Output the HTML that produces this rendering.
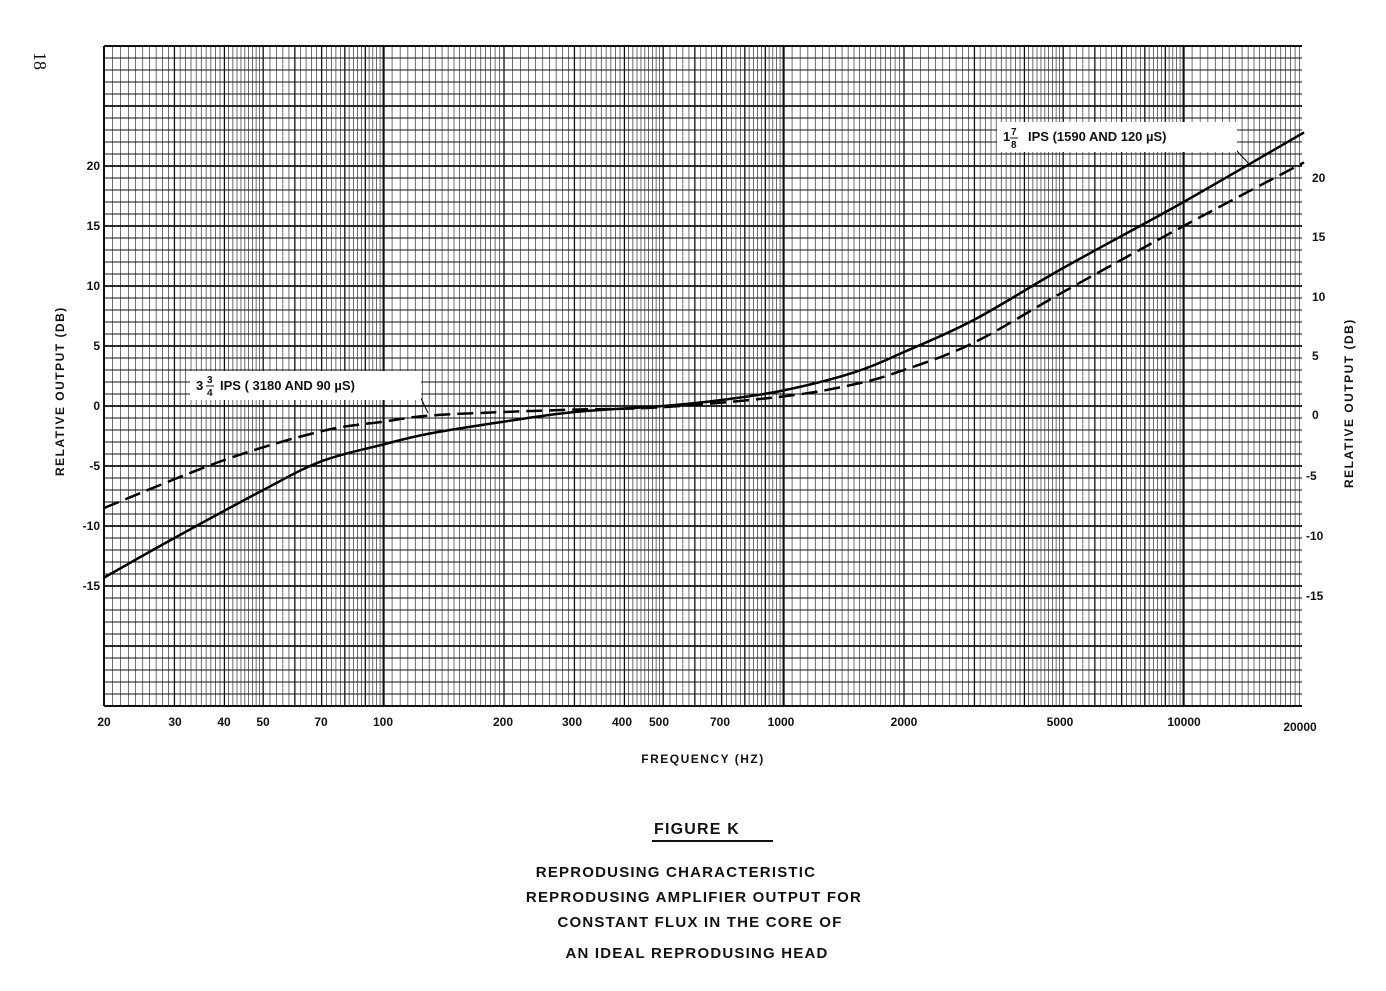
<!DOCTYPE html>
<html><head><meta charset="utf-8"><style>
body{margin:0;background:#fff;}
svg{display:block;font-family:"Liberation Sans",sans-serif;font-weight:bold;}
</style></head><body>
<svg id="s" width="1386" height="991" viewBox="0 0 1386 991" xmlns="http://www.w3.org/2000/svg">
<g id="grid"></g>
<g id="curves"></g>
<g font-size="12" fill="#111">
<text x="34" y="52" font-family="Liberation Serif" font-weight="normal" font-size="18" transform="rotate(90 34 52)">18</text>
<g text-anchor="end">
<text x="100" y="170">20</text><text x="100" y="230">15</text><text x="100" y="290">10</text><text x="100" y="350">5</text><text x="100" y="410">0</text><text x="100" y="470">-5</text><text x="100" y="530">-10</text><text x="100" y="590">-15</text>
</g>
<g text-anchor="start">
<text x="1312" y="182">20</text><text x="1312" y="241">15</text><text x="1312" y="301">10</text><text x="1312" y="360">5</text><text x="1312" y="419">0</text><text x="1306" y="480">-5</text><text x="1306" y="540">-10</text><text x="1306" y="600">-15</text>
</g>
<g text-anchor="middle" font-size="12">
<text x="104" y="726">20</text><text x="175" y="726">30</text><text x="224" y="726">40</text><text x="263" y="726">50</text><text x="321" y="726">70</text><text x="383" y="726">100</text><text x="503" y="726">200</text><text x="572" y="726">300</text><text x="622" y="726">400</text><text x="659" y="726">500</text><text x="720" y="726">700</text><text x="781" y="726">1000</text><text x="904" y="726">2000</text><text x="1060" y="726">5000</text><text x="1184" y="726">10000</text><text x="1300" y="731">20000</text>
<text x="703" y="763" letter-spacing="1.5">FREQUENCY (HZ)</text>
</g>
<text x="64" y="476" letter-spacing="1.5" transform="rotate(-90 64 476)">RELATIVE OUTPUT (DB)</text>
<text x="1353" y="488" letter-spacing="1.5" transform="rotate(-90 1353 488)">RELATIVE OUTPUT (DB)</text>
<g text-anchor="middle" font-size="15" letter-spacing="1.2">
<text x="697" y="834" font-size="16">FIGURE K</text>
<text x="676" y="877">REPRODUSING  CHARACTERISTIC</text>
<text x="694" y="902">REPRODUSING AMPLIFIER OUTPUT  FOR</text>
<text x="700" y="927">CONSTANT  FLUX  IN  THE CORE OF</text>
<text x="697" y="958">AN  IDEAL  REPRODUSING  HEAD</text>
</g>
<line x1="652" y1="841" x2="773" y2="841" stroke="#111" stroke-width="2"/>
<rect x="190" y="371" width="231" height="29" fill="#fff"/>
<text x="196" y="390" font-size="13">3</text><text x="207" y="383" font-size="10">3</text><line x1="206" y1="386" x2="214" y2="386" stroke="#111"/><text x="207" y="396" font-size="10">4</text>
<text x="220" y="390" font-size="13">IPS ( 3180 AND 90 µS)</text>
<rect x="997" y="122" width="240" height="30" fill="#fff"/>
<text x="1003" y="141" font-size="13">1</text><text x="1011" y="135" font-size="10">7</text><line x1="1010" y1="138" x2="1018" y2="138" stroke="#111"/><text x="1011" y="148" font-size="10">8</text>
<text x="1028" y="141" font-size="13">IPS (1590 AND 120 µS)</text>
</g>
</svg>
<script>
var X=f=>104+400*(Math.log10(f)-Math.log10(20));
var Y=d=>406-12*d;
var g='';
for(var d=-25;d<=30;d++){var w=(d%5==0)?1.8:0.9;g+=`<line x1="104" x2="1302" y1="${Y(d)}" y2="${Y(d)}" stroke="#111" stroke-width="${w}"/>`;}
function v(f,w){var x=X(f);if(x<103.5||x>1302.5)return;g+=`<line x1="${x}" x2="${x}" y1="46" y2="706" stroke="#111" stroke-width="${w}"/>`;}
[10,100,1000,10000].forEach(function(D){
 for(var m=1;m<2;m+=0.05)v(m*D,0.6);
 for(var m=2;m<5;m+=0.1)v(m*D,0.6);
 for(var m=5;m<10;m+=0.2)v(m*D,0.6);
 for(var m=1;m<=10;m++)v(m*D,m==1||m==10?2:1.3);
});
v(20,2);v(20000,2);
g+=`<line x1="104" x2="1302" y1="46" y2="46" stroke="#111" stroke-width="2"/><line x1="104" x2="1302" y1="706" y2="706" stroke="#111" stroke-width="2"/>`;
document.getElementById('grid').innerHTML=g;
function path(pts){
 var P=pts.map(p=>[X(p[0]),Y(p[1])]);
 var s='M'+P[0][0].toFixed(1)+' '+P[0][1].toFixed(1);
 for(var i=0;i<P.length-1;i++){
  var p0=P[Math.max(0,i-1)],p1=P[i],p2=P[i+1],p3=P[Math.min(P.length-1,i+2)];
  var c1=[p1[0]+(p2[0]-p0[0])/6,p1[1]+(p2[1]-p0[1])/6];
  var c2=[p2[0]-(p3[0]-p1[0])/6,p2[1]-(p3[1]-p1[1])/6];
  s+=` C${c1[0].toFixed(1)} ${c1[1].toFixed(1)} ${c2[0].toFixed(1)} ${c2[1].toFixed(1)} ${p2[0].toFixed(1)} ${p2[1].toFixed(1)}`;
 }
 return s;
}
var sol=[[20,-14.3],[30,-11],[50,-7],[70,-4.6],[100,-3.2],[130,-2.3],[200,-1.3],[300,-0.5],[500,0],[700,0.5],[1000,1.3],[1500,2.8],[2000,4.5],[3000,7.2],[5000,11.5],[10000,17],[20000,22.8]];
var das=[[20,-8.5],[40,-4.5],[70,-2.1],[100,-1.3],[130,-0.8],[200,-0.5],[300,-0.3],[500,-0.1],[1000,0.8],[1500,1.8],[2000,3],[3000,5.3],[5000,9.5],[10000,15],[20000,20.3]];
document.getElementById('curves').innerHTML=
`<path d="${path(sol)}" fill="none" stroke="#000" stroke-width="2.5"/>`+
`<path d="${path(das)}" fill="none" stroke="#000" stroke-width="2.5" stroke-dasharray="16 7"/>`+
`<line x1="1236" y1="150" x2="1250" y2="165" stroke="#000" stroke-width="1"/>`+
`<line x1="418" y1="392" x2="428" y2="413" stroke="#000" stroke-width="1"/>`;
</script>
</body></html>
